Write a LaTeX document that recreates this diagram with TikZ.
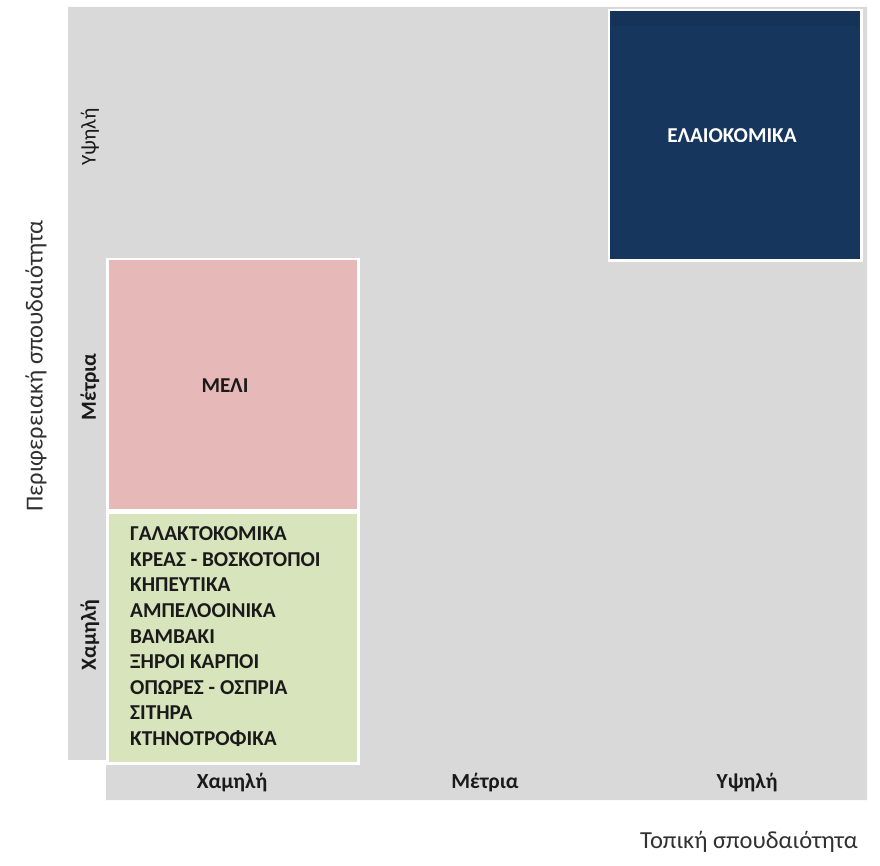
\documentclass[tikz,border=0pt]{standalone}
\usepackage{fontspec}
\setmainfont{Carlito}
\definecolor{bggray}{HTML}{D9D9D9}
\definecolor{navy}{HTML}{17365D}
\definecolor{navytop}{HTML}{153258}
\definecolor{pinkc}{HTML}{E6B8B7}
\definecolor{greenc}{HTML}{D7E4BC}
\definecolor{txt}{HTML}{1A1A1A}
\tikzset{
  cell/.style={draw=white, line width=2.5pt},
  axlab/.style={font=\fontsize{21.5}{25}\selectfont\bfseries, text=txt, inner sep=0pt},
  axlabreg/.style={font=\fontsize{21}{25}\selectfont, text=txt, inner sep=0pt},
  title/.style={font=\fontsize{24.5}{29}\selectfont, text=txt!90, inner sep=0pt},
  celltext/.style={font=\fontsize{21.2}{25.6}\selectfont\bfseries, inner sep=0pt}
}
\begin{document}
\begin{tikzpicture}[x=1pt,y=-1pt]
\useasboundingbox[fill=white] (0,0) rectangle (880,866);
% gray background
\fill[bggray] (68,7) -- (867,7) -- (867,800) -- (106,800) -- (106,760) -- (68,760) -- cycle;
\fill[white] (68,760) rectangle (106,766);
% cells
\draw[cell, fill=navy] (609,10) rectangle (861.5,260.5);
\fill[navytop] (611,11.5) rectangle (859,26);
\draw[cell, fill=pinkc] (107.5,259) rectangle (358.5,510.5);
\draw[cell, fill=greenc] (107.5,513) rectangle (358.5,763.5);
% cell texts
\node[celltext, text=white, anchor=base] (olive) at (732,143) {ΕΛΑΙΟΚΟΜΙΚΑ};
\node[celltext, text=txt, anchor=base] (honey) at (225,392) {ΜΕΛΙ};
\node[celltext, text=txt, anchor=north west, align=left] (list) at (130,526.5) {ΓΑΛΑΚΤΟΚΟΜΙΚΑ\\ΚΡΕΑΣ - ΒΟΣΚΟΤΟΠΟΙ\\ΚΗΠΕΥΤΙΚΑ\\ΑΜΠΕΛΟΟΙΝΙΚΑ\\ΒΑΜΒΑΚΙ\\ΞΗΡΟΙ ΚΑΡΠΟΙ\\ΟΠΩΡΕΣ - ΟΣΠΡΙΑ\\ΣΙΤΗΡΑ\\ΚΤΗΝΟΤΡΟΦΙΚΑ};
% y axis labels
\node[axlabreg, rotate=90] (yhigh) at (90,137) {Υψηλή};
\node[axlab, rotate=90] (ymid) at (90,387) {Μέτρια};
\node[axlab, rotate=90] (ylow) at (90,635) {Χαμηλή};
\node[title, rotate=90] (ytitle) at (36,366) {Περιφερειακή σπουδαιότητα};
% x axis labels
\node[axlab, anchor=base] (xlow) at (232,788) {Χαμηλή};
\node[axlab, anchor=base] (xmid) at (485,788) {Μέτρια};
\node[axlab, anchor=base] (xhigh) at (747,788) {Υψηλή};
\node[title, anchor=base east] (xtitle) at (858,848) {Τοπική σπουδαιότητα};
\end{tikzpicture}
\end{document}
